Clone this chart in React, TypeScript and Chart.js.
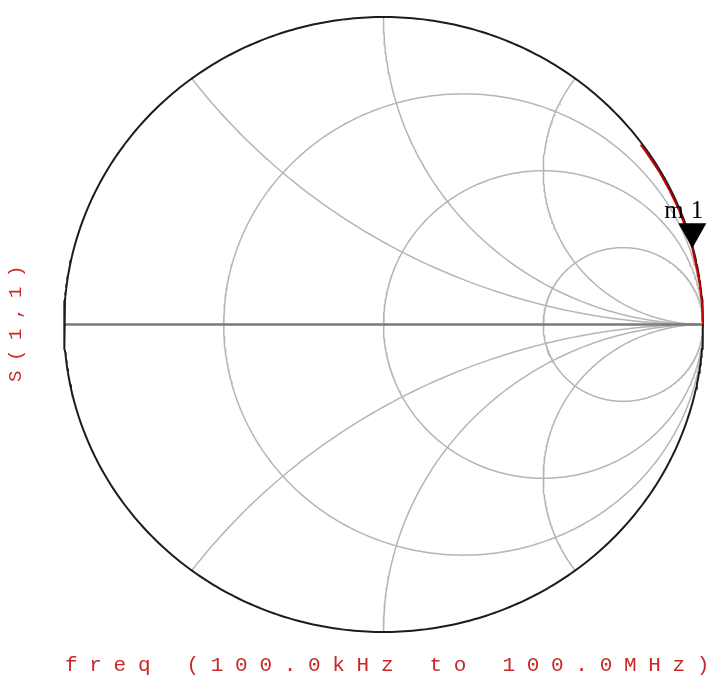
import React, { useEffect, useRef } from "react";
import { Chart, registerables } from "chart.js";

Chart.register(...registerables);

// Smith chart grid values (normalized impedance)
const resistanceValues = [1 / 3, 1, 3];
const reactanceValues = [0.5, 1, 2, -0.5, -1, -2];

// S(1,1) trace: |S11| and angle (degrees), 100 kHz -> 100 MHz
const traceAngleDeg = [0, 2, 4, 7, 10, 14.4, 18, 22, 26, 30, 34, 36];
const traceMag = [1.0, 1.0, 0.999, 0.999, 0.998, 0.998, 0.997, 0.997, 0.996, 0.996, 0.995, 0.995];
const markerIndex = 5;

const markerLabel = "m1";
const yAxisLabel = "S(1,1)";
const xAxisLabel = "freq (100.0kHz to 100.0MHz)";

type P = { x: number; y: number };

function circlePts(cx: number, cy: number, R: number, a0: number, a1: number): P[] {
  const pts: P[] = [];
  const n = Math.max(24, Math.ceil(Math.abs(a1 - a0) / 0.75));
  for (let i = 0; i <= n; i++) {
    const a = ((a0 + ((a1 - a0) * i) / n) * Math.PI) / 180;
    pts.push({ x: cx + R * Math.cos(a), y: cy + R * Math.sin(a) });
  }
  return pts;
}

function resistanceCircle(r: number): P[] {
  return circlePts(r / (1 + r), 0, 1 / (1 + r), 0, 360);
}

function reactanceArc(xv: number): P[] {
  const R = 1 / Math.abs(xv);
  const cy = 1 / xv;
  const px = (xv * xv - 1) / (xv * xv + 1);
  const py = (2 * xv) / (xv * xv + 1);
  let end = (Math.atan2(py - cy, px - 1) * 180) / Math.PI;
  let start: number;
  if (xv > 0) {
    start = -90;
    if (end > -90) end -= 360;
  } else {
    start = 90;
    if (end < 90) end += 360;
  }
  return circlePts(1, cy, R, start, end);
}

const tracePts: P[] = traceAngleDeg.map((a, i) => ({
  x: traceMag[i] * Math.cos((a * Math.PI) / 180),
  y: traceMag[i] * Math.sin((a * Math.PI) / 180),
}));

export default function App() {
  const ref = useRef<HTMLCanvasElement | null>(null);

  useEffect(() => {
    if (!ref.current) return;
    const gridColor = "#b5b5b5";
    const datasets: any[] = [];
    datasets.push({
      data: tracePts,
      showLine: true,
      borderColor: "#c40000",
      borderWidth: 2,
      pointRadius: 0,
      clip: false,
    });
    datasets.push({
      data: resistanceCircle(0),
      showLine: true,
      borderColor: "#1c1c1c",
      borderWidth: 2,
      pointRadius: 0,
      clip: false,
    });
    datasets.push({
      data: [
        { x: -1, y: 0 },
        { x: 1, y: 0 },
      ],
      showLine: true,
      borderColor: "#7a7a7a",
      borderWidth: 2.5,
      pointRadius: 0,
      clip: false,
    });
    resistanceValues.forEach((r) =>
      datasets.push({
        data: resistanceCircle(r),
        showLine: true,
        borderColor: gridColor,
        borderWidth: 1.5,
        pointRadius: 0,
        clip: false,
      })
    );
    reactanceValues.forEach((xv) =>
      datasets.push({
        data: reactanceArc(xv),
        showLine: true,
        borderColor: gridColor,
        borderWidth: 1.5,
        pointRadius: 0,
        clip: false,
      })
    );

    const labelsPlugin = {
      id: "smithLabels",
      afterDraw(chart: any) {
        const ctx = chart.ctx as CanvasRenderingContext2D;
        const sx = chart.scales.x;
        const sy = chart.scales.y;
        // marker
        const mp = tracePts[markerIndex];
        const px = sx.getPixelForValue(mp.x);
        const py = sy.getPixelForValue(mp.y);
        ctx.save();
        ctx.fillStyle = "#000";
        ctx.beginPath();
        ctx.moveTo(px, py);
        ctx.lineTo(px - 14, py - 25);
        ctx.lineTo(px + 14, py - 25);
        ctx.closePath();
        ctx.fill();
        ctx.font = "25px 'Liberation Serif', serif";
        (ctx as any).letterSpacing = "7px";
        ctx.textAlign = "left";
        ctx.textBaseline = "alphabetic";
        ctx.fillText(markerLabel, px - 28, py - 30);
        ctx.restore();

        // axis labels
        ctx.save();
        ctx.fillStyle = "#c82828";
        ctx.font = "21px 'Liberation Mono', monospace";
        (ctx as any).letterSpacing = "11.7px";
        ctx.textAlign = "left";
        ctx.textBaseline = "alphabetic";
        ctx.fillText(xAxisLabel, 57, 663);
        ctx.restore();

        ctx.save();
        ctx.fillStyle = "#c82828";
        ctx.font = "19px 'Liberation Mono', monospace";
        (ctx as any).letterSpacing = "9.6px";
        ctx.textAlign = "left";
        ctx.textBaseline = "alphabetic";
        ctx.translate(13, 374);
        ctx.rotate(-Math.PI / 2);
        ctx.fillText(yAxisLabel, 0, 0);
        ctx.restore();
      },
    };

    const chart = new Chart(ref.current, {
      type: "scatter",
      data: { datasets },
      options: {
        animation: false,
        responsive: true,
        maintainAspectRatio: false,
        devicePixelRatio: 1,
        layout: { padding: { left: 56, right: 5, top: 9, bottom: 44 } },
        scales: {
          x: { type: "linear", min: -1, max: 1, display: false },
          y: { type: "linear", min: -1, max: 1, display: false },
        },
        plugins: {
          legend: { display: false },
          tooltip: { enabled: false },
        },
        elements: { line: { tension: 0 } },
      },
      plugins: [labelsPlugin],
    });
    return () => chart.destroy();
  }, []);

  return (
    <div style={{ position: "relative", width: 700, height: 668, background: "#fff" }}>
      <canvas ref={ref} />
    </div>
  );
}
